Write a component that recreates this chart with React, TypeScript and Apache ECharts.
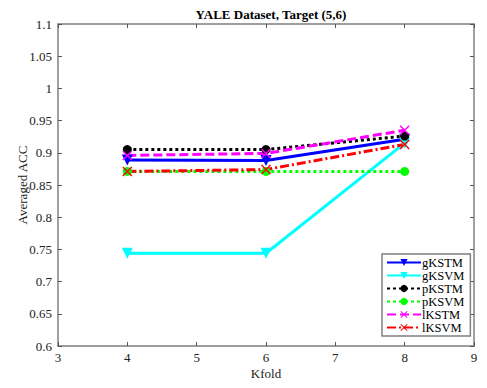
import React, { useEffect, useRef } from "react";
import * as echarts from "echarts";

const kfold = [4, 6, 8];
const gKSTM = [0.889, 0.888, 0.921];
const gKSVM = [0.744, 0.744, 0.915];
const pKSTM = [0.905, 0.905, 0.926];
const pKSVM = [0.871, 0.871, 0.871];
const lKSTM = [0.896, 0.899, 0.935];
const lKSVM = [0.871, 0.874, 0.913];
const xTicks = [3, 4, 5, 6, 7, 8, 9];

const XMARK =
  "path://M1,0 L5,4 L9,0 L10,1 L6,5 L10,9 L9,10 L5,6 L1,10 L0,9 L4,5 L0,1 Z";

const FONT = "Liberation Serif";

export default function App() {
  const ref = useRef<HTMLDivElement>(null);
  useEffect(() => {
    if (!ref.current) return;
    const chart = echarts.init(ref.current, null, { renderer: "svg" });
    const mk = (
      name: string,
      data: number[],
      color: string,
      symbol: string,
      type: any,
      size: number,
      rotate = 0
    ) => ({
      name,
      type: "line",
      data: data.map((v, i) => [kfold[i], v]),
      symbol,
      symbolSize: size,
      symbolRotate: rotate,
      lineStyle: { color, width: 3, type },
      itemStyle: { color },
      z: 3,
    });
    const axisLine = { show: true, lineStyle: { color: "#7f7f7f", width: 1.5 } };
    const axisTick = { show: true, inside: true, length: 4, lineStyle: { color: "#555" } };
    chart.setOption({
      animation: false,
      backgroundColor: "#fff",
      title: {
        text: "YALE Dataset, Target (5,6)",
        left: 266,
        top: 3,
        textAlign: "center",
        textStyle: { fontFamily: FONT, fontSize: 13, fontWeight: "bold", color: "#000" },
      },
      grid: {
        left: 58,
        right: 13,
        top: 24,
        bottom: 42,
        show: false,
        containLabel: false,
        outerBoundsMode: "none",
      },
      legend: {
        orient: "vertical",
        left: 382,
        top: 254,
        backgroundColor: "#fff",
        borderColor: "#7f7f7f",
        borderWidth: 1.5,
        borderRadius: 0,
        padding: [2, 6, 2, 4],
        itemWidth: 34,
        itemHeight: 9,
        itemGap: 0,
        textStyle: {
          fontFamily: FONT,
          fontSize: 12.5,
          color: "#000",
          padding: [0, 0, 0, -4],
        },
        data: ["gKSTM", "gKSVM", "pKSTM", "pKSVM", "lKSTM", "lKSVM"],
      },
      xAxis: [
        {
          type: "value",
          min: 3,
          max: 9,
          interval: 1,
          name: "Kfold",
          nameLocation: "middle",
          nameGap: 21,
          nameMoveOverlap: false,
          nameTextStyle: { fontFamily: FONT, fontSize: 13, color: "#222" },
          axisLine,
          axisTick,
          splitLine: { show: false },
          axisLabel: {
            fontFamily: FONT,
            fontSize: 13,
            color: "#222",
            margin: 5,
            formatter: (v: number) => (xTicks.includes(v) ? String(v) : ""),
          },
        },
        {
          type: "value",
          position: "top",
          min: 3,
          max: 9,
          interval: 1,
          axisLine,
          axisTick,
          splitLine: { show: false },
          axisLabel: { show: false },
        },
      ],
      yAxis: [
        {
          type: "value",
          min: 0.6,
          max: 1.1,
          interval: 0.05,
          name: "Averaged ACC",
          nameLocation: "middle",
          nameGap: 29,
          nameMoveOverlap: false,
          nameTextStyle: { fontFamily: FONT, fontSize: 13, color: "#222" },
          axisLine,
          axisTick,
          splitLine: { show: false },
          axisLabel: {
            fontFamily: FONT,
            fontSize: 13,
            color: "#222",
            margin: 6,
            formatter: (v: number) => String(+v.toFixed(2)),
          },
        },
        {
          type: "value",
          position: "right",
          min: 0.6,
          max: 1.1,
          interval: 0.05,
          axisLine,
          axisTick,
          splitLine: { show: false },
          axisLabel: { show: false },
        },
      ],
      series: [
        mk("gKSTM", gKSTM, "#0000ff", "triangle", "solid", 11, 180),
        mk("gKSVM", gKSVM, "#00ffff", "triangle", "solid", 11, 180),
        mk("pKSTM", pKSTM, "#000000", "circle", [3, 3], 9),
        mk("pKSVM", pKSVM, "#00ff00", "circle", [3, 3], 9),
        mk("lKSTM", lKSTM, "#ff00ff", XMARK, [9, 4], 10),
        mk("lKSVM", lKSVM, "#ff0000", XMARK, [9, 3, 2, 3], 10),
      ],
    });
    return () => chart.dispose();
  }, []);
  return (
    <div
      ref={ref}
      style={{ width: 487, height: 388, position: "absolute", left: 0, top: 0 }}
    />
  );
}
